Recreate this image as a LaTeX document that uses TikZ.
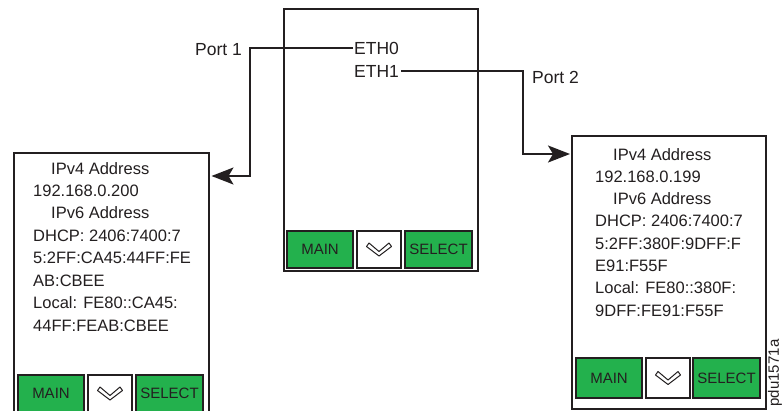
\documentclass[tikz,border=0pt]{standalone}
\usepackage{fontspec}
\setmainfont{Liberation Sans}
\usetikzlibrary{arrows.meta}
\definecolor{btngreen}{RGB}{35,177,77}
\definecolor{ink}{RGB}{35,31,32}
\tikzset{
  panel/.style={draw=ink, line width=1.5pt, fill=white},
  btn/.style={draw=ink, line width=1.6pt, fill=btngreen},
  chevbox/.style={draw=ink, line width=1.6pt, fill=white},
  btntext/.style={font=\fontsize{15}{18}\selectfont, text=ink, inner sep=0pt},
  disptext/.style={font=\fontsize{16.5}{20}\selectfont, text=ink, inner sep=0pt, anchor=base west},
  porttext/.style={font=\fontsize{17.5}{21}\selectfont, text=ink, inner sep=0pt},
  conn/.style={draw=ink, line width=2pt},
  tip/.style={-{Stealth[length=22pt, width=17pt, inset=5pt]}},
}
\newcommand{\chev}[2]{%
  \draw[ink, line width=1pt, fill=white, line join=round, shift={(#1,#2)}]
    (-12.5,-3) -- (0,6.5) -- (12.5,-3) -- (10,-6.5)
    -- (0,2) -- (-10,-6.5) -- cycle;}
\newcommand{\buttons}[6]{% prefix, top, bottom, lefts of the three buttons
  \pgfmathsetmacro{\bmid}{(#2+#3)/2}%
  \pgfmathsetmacro{\ma}{#4+66}%
  \pgfmathsetmacro{\ca}{#5+44}%
  \pgfmathsetmacro{\cm}{#5+22}%
  \pgfmathsetmacro{\sa}{#6+67}%
  \draw[btn] (#4,#2) rectangle (\ma,#3);
  \node[btntext] (#1main) at ({(#4+\ma)/2},\bmid) {MAIN};
  \draw[chevbox] (#5,#2) rectangle (\ca,#3);
  \chev{\cm}{\bmid}
  \draw[btn] (#6,#2) rectangle (\sa,#3);
  \node[btntext] (#1sel) at ({(#6+\sa)/2},\bmid) {SELECT};
}
\begin{document}
\begin{tikzpicture}[x=1pt, y=-1pt]
\clip (0,0) rectangle (783,410);
\fill[white] (0,0) rectangle (783,410);

% boxes
\node[panel, anchor=north west, minimum width=194pt, minimum height=262pt, inner sep=0pt] (cbox) at (283,8) {};
\node[panel, anchor=north west, minimum width=195pt, minimum height=268pt, inner sep=0pt] (lbox) at (13,152) {};
\node[panel, anchor=north west, minimum width=194pt, minimum height=273pt, inner sep=0pt] (rbox) at (571,135) {};

% buttons
\buttons{c}{231}{268}{287}{357}{405}
\buttons{l}{375}{412}{18}{88}{136}
\buttons{r}{358}{398}{576}{646}{693}

% center labels
\node[porttext, anchor=base west] (eth0) at (354,54.5) {ETH0};
\node[porttext, anchor=base west] (eth1) at (354,77.5) {ETH1};
\node[porttext, anchor=base east] (port1) at (242,55.5) {Port 1};
\node[porttext, anchor=base west] (port2) at (532,83.5) {Port 2};

% left display text
\node[disptext] (l1) at (51,174) {IPv4 Address};
\node[disptext] (l2) at (33,196.4) {192.168.0.200};
\node[disptext] (l3) at (51,218.9) {IPv6 Address};
\node[disptext] (l4) at (33,241.3) {DHCP: 2406:7400:7};
\node[disptext] (l5) at (33,263.8) {5:2FF:CA45:44FF:FE};
\node[disptext] (l6) at (33,286.2) {AB:CBEE};
\node[disptext] (l7) at (33,308.7) {Local: FE80::CA45:};
\node[disptext] (l8) at (33,331.1) {44FF:FEAB:CBEE};

% right display text
\node[disptext] (r1) at (613,160) {IPv4 Address};
\node[disptext] (r2) at (595,182.3) {192.168.0.199};
\node[disptext] (r3) at (613,204.6) {IPv6 Address};
\node[disptext] (r4) at (595,226.9) {DHCP: 2406:7400:7};
\node[disptext] (r5) at (595,249.2) {5:2FF:380F:9DFF:F};
\node[disptext] (r6) at (595,271.5) {E91:F55F};
\node[disptext] (r7) at (595,293.8) {Local: FE80::380F:};
\node[disptext] (r8) at (595,316.1) {9DFF:FE91:F55F};

% connectors
\coordinate (b1) at (250,176);
\coordinate (b2) at (523,154);
\draw[conn, tip, line join=miter] ([xshift=-1pt]eth0.west) -| (b1) -- ([xshift=2pt]b1 -| lbox.east);
\draw[conn, tip, line join=miter] ([xshift=2pt]eth1.east) -| (b2) -- ([xshift=-1pt]b2 -| rbox.west);

% figure id
\node[font=\fontsize{15}{18}\selectfont, text=ink, rotate=90, inner sep=0pt] (fid) at (775,373) {pdu1571a};
\end{tikzpicture}
\end{document}
